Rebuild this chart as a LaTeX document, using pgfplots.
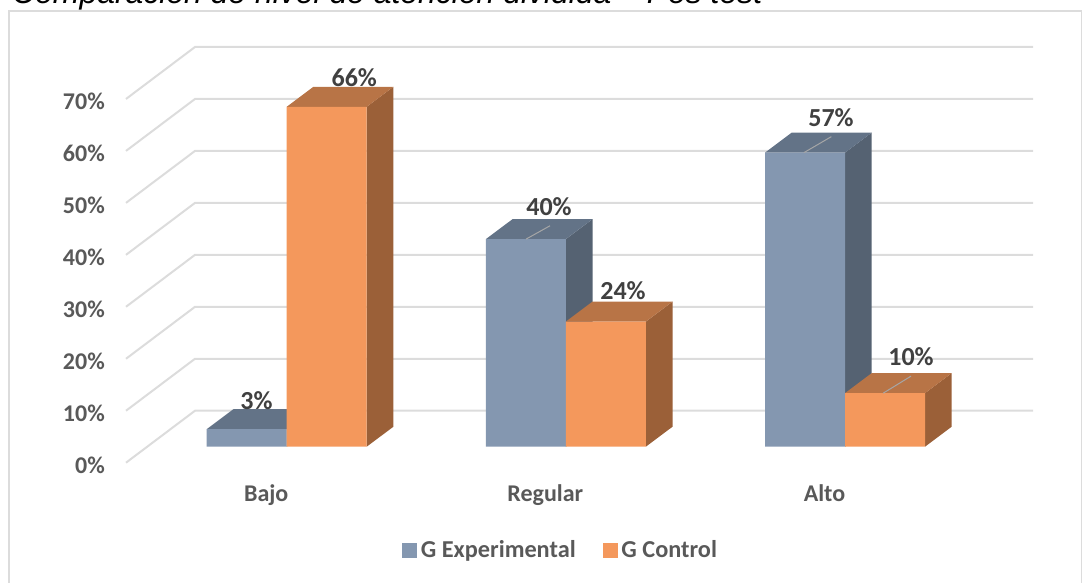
\documentclass[border=0pt]{standalone}
\usepackage{fontspec}
\setmainfont{Carlito}
\newfontfamily\titlefont{Liberation Sans}
\usepackage{pgfplots}
\pgfplotsset{compat=1.18}
\definecolor{gridc}{HTML}{DCDCDC}
\definecolor{labc}{HTML}{404040}
\definecolor{tickc}{HTML}{595959}
\definecolor{expF}{HTML}{8497B0}
\definecolor{expT}{HTML}{637387}
\definecolor{expS}{HTML}{556272}
\definecolor{ctlF}{HTML}{F4985C}
\definecolor{ctlT}{HTML}{B87446}
\definecolor{ctlS}{HTML}{9B6038}
\newcommand{\sz}[1]{\fontsize{#1}{#1}\selectfont}

\begin{document}
\begin{tikzpicture}[x=1pt,y=1pt]
\path[use as bounding box] (0,0) rectangle (1089,583);
% outer frame, its bottom edge is cut off in the original
\draw[gridc,line width=1.8pt] (9,-10) -- (9,572) -- (1081.5,572) -- (1081.5,-10);
\node[anchor=base west,inner sep=0pt,text=black] at (12,579) {\titlefont\itshape\sz{31.9}Comparación de nivel de atención dividida – Pos test};

% back and left walls
\begin{axis}[
    at={(126pt,120.3pt)}, anchor=south west,
    scale only axis, width=907pt, height=415.7pt,
    xmin=126, xmax=1033, ymin=0, ymax=80,
    axis line style={draw=none},
    xtick=\empty,
    ytick={0,10,20,30,40,50,60,70},
    yticklabels={0\%,10\%,20\%,30\%,40\%,50\%,60\%,70\%},
    major tick length=0pt,
    y tick label style={font=\sz{24}\bfseries,text=tickc,inner sep=0pt,anchor=east,xshift=-21pt,yshift=-2.2pt},
    clip=false,
]
\addplot[gridc,line width=2pt] coordinates {(126,0) (195,10) (1033,10)};
\addplot[gridc,line width=2pt] coordinates {(126,10) (195,20) (1033,20)};
\addplot[gridc,line width=2pt] coordinates {(126,20) (195,30) (1033,30)};
\addplot[gridc,line width=2pt] coordinates {(126,30) (195,40) (1033,40)};
\addplot[gridc,line width=2pt] coordinates {(126,40) (195,50) (1033,50)};
\addplot[gridc,line width=2pt] coordinates {(126,50) (195,60) (1033,60)};
\addplot[gridc,line width=2pt] coordinates {(126,60) (195,70) (1033,70)};
\addplot[gridc,line width=2pt] coordinates {(126,70) (195,80) (1033,80)};
\end{axis}

% bars: front face from the value, top and side faces offset by the depth
\begin{axis}[
    at={(126pt,136.3pt)}, anchor=south west,
    scale only axis, width=907pt, height=399.7pt,
    xmin=-0.5757, xmax=2.6735, ymin=0, ymax=77.61,
    axis line style={draw=none},
    xtick={0,1,2},
    xticklabels={Bajo,Regular,Alto},
    ytick=\empty,
    major tick length=0pt,
    x tick label style={font=\sz{24}\bfseries,text=tickc,inner sep=0pt,anchor=base,xshift=-20.5pt,yshift=-55pt},
    clip=false,
    legend columns=2,
    legend style={at={(0.3043,-0.2584)},anchor=west,draw=none,fill=none,inner sep=0pt,
        font=\sz{24.3}\bfseries,text=tickc,
        /tikz/every even column/.append style={column sep=25pt}},
]
% G Experimental
\addplot[fill=expS,draw=none,forget plot] coordinates {(0,0) (.0956,3.88) (.0956,7.28) (0,3.4)} --cycle;
\addplot[fill=expT,draw=none,forget plot] coordinates {(-.2866,3.4) (0,3.4) (.0956,7.28) (-.191,7.28)} --cycle;
\addplot[fill=expS,draw=none,forget plot] coordinates {(1,0) (1.0956,3.88) (1.0956,44.18) (1,40.3)} --cycle;
\addplot[fill=expT,draw=none,forget plot] coordinates {(.7134,40.3) (1,40.3) (1.0956,44.18) (.809,44.18)} --cycle;
\addplot[fill=expS,draw=none,forget plot] coordinates {(2,0) (2.0956,3.88) (2.0956,60.98) (2,57.1)} --cycle;
\addplot[fill=expT,draw=none,forget plot] coordinates {(1.7134,57.1) (2,57.1) (2.0956,60.98) (1.809,60.98)} --cycle;
\addplot[ybar,bar width=80pt,bar shift=-40pt,fill=expF,draw=none,forget plot] coordinates {(0,3.4) (1,40.3) (2,57.1)};
% G Control
\addplot[fill=ctlS,draw=none,forget plot] coordinates {(.2866,0) (.3822,3.88) (.3822,69.88) (.2866,66)} --cycle;
\addplot[fill=ctlT,draw=none,forget plot] coordinates {(0,66) (.2866,66) (.3822,69.88) (.0956,69.88)} --cycle;
\addplot[fill=ctlS,draw=none,forget plot] coordinates {(1.2866,0) (1.3822,3.88) (1.3822,28.18) (1.2866,24.3)} --cycle;
\addplot[fill=ctlT,draw=none,forget plot] coordinates {(1,24.3) (1.2866,24.3) (1.3822,28.18) (1.0956,28.18)} --cycle;
\addplot[fill=ctlS,draw=none,forget plot] coordinates {(2.2866,0) (2.3822,3.88) (2.3822,14.28) (2.2866,10.4)} --cycle;
\addplot[fill=ctlT,draw=none,forget plot] coordinates {(2,10.4) (2.2866,10.4) (2.3822,14.28) (2.0956,14.28)} --cycle;
\addplot[ybar,bar width=80pt,bar shift=40pt,fill=ctlF,draw=none,forget plot] coordinates {(0,66) (1,24.3) (2,10.4)};
% leader lines
\addplot[color=gray!70,line width=1pt,forget plot] coordinates {(.8573,40.3) (.9433,42.9)};
\addplot[color=gray!70,line width=1pt,forget plot] coordinates {(1.853,57.1) (1.951,60.2)};
\addplot[color=gray!70,line width=1pt,forget plot] coordinates {(2.137,10.4) (2.2365,13.7)};
% data labels
\tikzset{lab/.style={anchor=base,inner sep=0pt,font=\sz{26}\bfseries,text=labc}}
\node[lab] at (axis cs:-.1086,7.13) {3\%};
\node[lab] at (axis cs:.2421,70.0) {66\%};
\node[lab] at (axis cs:.9397,44.8) {40\%};
\node[lab] at (axis cs:1.2047,28.5) {24\%};
\node[lab] at (axis cs:1.9498,62.1) {57\%};
\node[lab] at (axis cs:2.2365,15.7) {10\%};
% legend
\addlegendimage{legend image code/.code={\fill[expF] (0pt,-7pt) rectangle (14pt,7pt);\path[draw=none,fill=none] (0pt,0pt) rectangle (16.5pt,0pt);}}
\addlegendentry{G Experimental}
\addlegendimage{legend image code/.code={\fill[ctlF] (0pt,-7pt) rectangle (14pt,7pt);\path[draw=none,fill=none] (0pt,0pt) rectangle (16.5pt,0pt);}}
\addlegendentry{G Control}
\end{axis}
\end{tikzpicture}
\end{document}
